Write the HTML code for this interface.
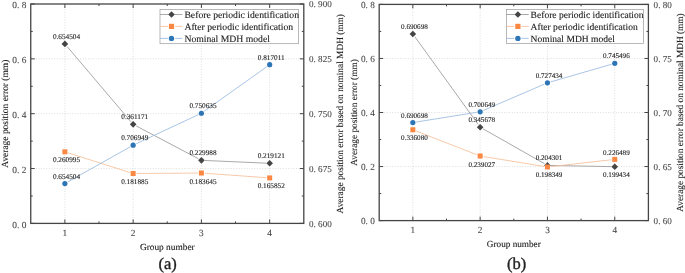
<!DOCTYPE html>
<html><head><meta charset="utf-8"><style>
html,body{margin:0;padding:0;background:#fff;width:685px;height:273px;overflow:hidden}
svg{display:block;will-change:transform;filter:blur(0.25px)}
text{font-family:"Liberation Serif", serif;fill:#222;stroke:#222;stroke-width:0.12;text-rendering:geometricPrecision}
.tl{fill:#484848;stroke:#484848;stroke-width:0.1}
.cap{stroke:#222;stroke-width:0.35}
.dl{stroke:#222;stroke-width:0.12}
</style></head><body>
<svg width="685" height="273" viewBox="0 0 685 273">
<line x1="64.881" y1="4" x2="64.881" y2="223.4" stroke="#c8c8c8" stroke-width="0.6" stroke-dasharray="1 1.6"/>
<line x1="133.144" y1="4" x2="133.144" y2="223.4" stroke="#c8c8c8" stroke-width="0.6" stroke-dasharray="1 1.6"/>
<line x1="201.406" y1="4" x2="201.406" y2="223.4" stroke="#c8c8c8" stroke-width="0.6" stroke-dasharray="1 1.6"/>
<line x1="269.669" y1="4" x2="269.669" y2="223.4" stroke="#c8c8c8" stroke-width="0.6" stroke-dasharray="1 1.6"/>
<line x1="30.75" y1="168.55" x2="303.8" y2="168.55" stroke="#c8c8c8" stroke-width="0.6" stroke-dasharray="1 1.6"/>
<line x1="30.75" y1="113.7" x2="303.8" y2="113.7" stroke="#c8c8c8" stroke-width="0.6" stroke-dasharray="1 1.6"/>
<line x1="30.75" y1="58.85" x2="303.8" y2="58.85" stroke="#c8c8c8" stroke-width="0.6" stroke-dasharray="1 1.6"/>
<path d="M64.881 223.4v-4M64.881 4v4M133.144 223.4v-4M133.144 4v4M201.406 223.4v-4M201.406 4v4M269.669 223.4v-4M269.669 4v4M99.013 223.4v-2M99.013 4v2M167.275 223.4v-2M167.275 4v2M235.538 223.4v-2M235.538 4v2M30.75 223.4h4M303.8 223.4h-4M30.75 168.55h4M303.8 168.55h-4M30.75 113.7h4M303.8 113.7h-4M30.75 58.85h4M303.8 58.85h-4M30.75 4h4M303.8 4h-4M30.75 195.975h2M303.8 195.975h-2M30.75 141.125h2M303.8 141.125h-2M30.75 86.275h2M303.8 86.275h-2M30.75 31.425h2M303.8 31.425h-2" stroke="#454545" stroke-width="1" fill="none"/>
<rect x="30.75" y="4" width="273.05" height="219.4" fill="none" stroke="#454545" stroke-width="1.3"/>
<text x="26.35" y="227.5" text-anchor="end" font-size="9.4" class="tl">0. 0</text>
<text x="26.35" y="172.65" text-anchor="end" font-size="9.4" class="tl">0. 2</text>
<text x="26.35" y="117.8" text-anchor="end" font-size="9.4" class="tl">0. 4</text>
<text x="26.35" y="62.95" text-anchor="end" font-size="9.4" class="tl">0. 6</text>
<text x="26.35" y="8.1" text-anchor="end" font-size="9.4" class="tl">0. 8</text>
<text x="309" y="226.6" font-size="9.1" class="tl">0. 600</text>
<text x="309" y="171.75" font-size="9.1" class="tl">0. 675</text>
<text x="309" y="116.9" font-size="9.1" class="tl">0. 750</text>
<text x="309" y="62.05" font-size="9.1" class="tl">0. 825</text>
<text x="309" y="7.2" font-size="9.1" class="tl">0. 900</text>
<text x="64.881" y="236.4" text-anchor="middle" font-size="9.4" class="tl">1</text>
<text x="133.144" y="236.4" text-anchor="middle" font-size="9.4" class="tl">2</text>
<text x="201.406" y="236.4" text-anchor="middle" font-size="9.4" class="tl">3</text>
<text x="269.669" y="236.4" text-anchor="middle" font-size="9.4" class="tl">4</text>
<path d="M67.081 46.495L130.944 121.756M136.152 125.934L198.398 158.741M204.803 160.474L266.272 163.158" fill="none" stroke="#9a9a9a" stroke-width="0.85"/>
<path d="M68.122 152.852L129.903 172.488M136.544 173.494L198.006 173.059M204.798 173.278L266.277 177.673" fill="none" stroke="#f6bf9a" stroke-width="0.85"/>
<path d="M67.845 181.874L130.18 146.85M136.223 143.743L198.327 114.677M204.177 111.265L266.898 66.663" fill="none" stroke="#98bbe0" stroke-width="0.85"/>
<path d="M64.881 40.602l3.3 3.3l-3.3 3.3l-3.3 -3.3z" fill="#454545"/>
<path d="M133.144 121.049l3.3 3.3l-3.3 3.3l-3.3 -3.3z" fill="#454545"/>
<path d="M201.406 157.026l3.3 3.3l-3.3 3.3l-3.3 -3.3z" fill="#454545"/>
<path d="M269.669 160.006l3.3 3.3l-3.3 3.3l-3.3 -3.3z" fill="#454545"/>
<rect x="62.381" y="149.322" width="5" height="5" fill="#fa8843"/>
<rect x="130.644" y="171.018" width="5" height="5" fill="#fa8843"/>
<rect x="198.906" y="170.535" width="5" height="5" fill="#fa8843"/>
<rect x="267.169" y="175.415" width="5" height="5" fill="#fa8843"/>
<circle cx="64.881" cy="183.539" r="2.6" fill="#2e75b6"/>
<circle cx="133.144" cy="145.185" r="2.6" fill="#2e75b6"/>
<circle cx="201.406" cy="113.236" r="2.6" fill="#2e75b6"/>
<circle cx="269.669" cy="64.693" r="2.6" fill="#2e75b6"/>
<text x="66.481" y="38.502" text-anchor="middle" font-size="7.25" class="dl">0.654504</text>
<text x="134.744" y="118.949" text-anchor="middle" font-size="7.25" class="dl">0.361171</text>
<text x="203.006" y="154.926" text-anchor="middle" font-size="7.25" class="dl">0.229988</text>
<text x="271.269" y="157.906" text-anchor="middle" font-size="7.25" class="dl">0.219121</text>
<text x="66.481" y="162.322" text-anchor="middle" font-size="7.25" class="dl">0.260995</text>
<text x="134.744" y="184.018" text-anchor="middle" font-size="7.25" class="dl">0.181885</text>
<text x="203.006" y="183.535" text-anchor="middle" font-size="7.25" class="dl">0.183645</text>
<text x="271.269" y="188.415" text-anchor="middle" font-size="7.25" class="dl">0.165852</text>
<text x="66.481" y="178.539" text-anchor="middle" font-size="7.25" class="dl">0.654504</text>
<text x="134.744" y="140.185" text-anchor="middle" font-size="7.25" class="dl">0.706949</text>
<text x="203.006" y="108.236" text-anchor="middle" font-size="7.25" class="dl">0.750635</text>
<text x="271.269" y="59.693" text-anchor="middle" font-size="7.25" class="dl">0.817011</text>
<rect x="160" y="9.4" width="138.5" height="34.3" fill="#fff" stroke="#9a9a9a" stroke-width="0.7"/>
<path d="M160 14.5H168.5M174.5 14.5H182.4" stroke="#9a9a9a" stroke-width="0.85"/>
<path d="M171.5 11.2l3.3 3.3l-3.3 3.3l-3.3 -3.3z" fill="#454545"/>
<text x="184.4" y="17.8" font-size="9.7">Before periodic identification</text>
<path d="M160 26.4H167.9M175.1 26.4H182.4" stroke="#f6bf9a" stroke-width="0.85"/>
<rect x="168.9" y="23.8" width="5.2" height="5.2" fill="#fa8843"/>
<text x="184.4" y="29.7" font-size="9.7">After periodic identification</text>
<path d="M160 38.4H167.9M175.1 38.4H182.4" stroke="#98bbe0" stroke-width="0.85"/>
<circle cx="171.5" cy="38.4" r="2.7" fill="#2e75b6"/>
<text x="184.4" y="41.7" font-size="9.7">Nominal MDH model</text>
<text x="167.275" y="250.4" text-anchor="middle" font-size="9.35">Group number</text>
<text x="167.6" y="268.8" text-anchor="middle" font-size="16.5" class="cap">(a)</text>
<text transform="translate(7.7 113.7) rotate(-90)" text-anchor="middle" font-size="9.45">Average position error (mm)</text>
<text transform="translate(342.8 113.7) rotate(-90)" text-anchor="middle" font-size="9.35">Average position error based on nominal MDH (mm)</text>
<line x1="412.85" y1="4.4" x2="412.85" y2="220.6" stroke="#c8c8c8" stroke-width="0.6" stroke-dasharray="1 1.6"/>
<line x1="480.15" y1="4.4" x2="480.15" y2="220.6" stroke="#c8c8c8" stroke-width="0.6" stroke-dasharray="1 1.6"/>
<line x1="547.45" y1="4.4" x2="547.45" y2="220.6" stroke="#c8c8c8" stroke-width="0.6" stroke-dasharray="1 1.6"/>
<line x1="614.75" y1="4.4" x2="614.75" y2="220.6" stroke="#c8c8c8" stroke-width="0.6" stroke-dasharray="1 1.6"/>
<line x1="379.2" y1="166.55" x2="648.4" y2="166.55" stroke="#c8c8c8" stroke-width="0.6" stroke-dasharray="1 1.6"/>
<line x1="379.2" y1="112.5" x2="648.4" y2="112.5" stroke="#c8c8c8" stroke-width="0.6" stroke-dasharray="1 1.6"/>
<line x1="379.2" y1="58.45" x2="648.4" y2="58.45" stroke="#c8c8c8" stroke-width="0.6" stroke-dasharray="1 1.6"/>
<path d="M412.85 220.6v-4M412.85 4.4v4M480.15 220.6v-4M480.15 4.4v4M547.45 220.6v-4M547.45 4.4v4M614.75 220.6v-4M614.75 4.4v4M446.5 220.6v-2M446.5 4.4v2M513.8 220.6v-2M513.8 4.4v2M581.1 220.6v-2M581.1 4.4v2M379.2 220.6h4M648.4 220.6h-4M379.2 166.55h4M648.4 166.55h-4M379.2 112.5h4M648.4 112.5h-4M379.2 58.45h4M648.4 58.45h-4M379.2 4.4h4M648.4 4.4h-4M379.2 193.575h2M648.4 193.575h-2M379.2 139.525h2M648.4 139.525h-2M379.2 85.475h2M648.4 85.475h-2M379.2 31.425h2M648.4 31.425h-2" stroke="#454545" stroke-width="1" fill="none"/>
<rect x="379.2" y="4.4" width="269.2" height="216.2" fill="none" stroke="#454545" stroke-width="1.3"/>
<text x="374.8" y="223.8" text-anchor="end" font-size="9.268" class="tl">0. 0</text>
<text x="374.8" y="169.75" text-anchor="end" font-size="9.268" class="tl">0. 2</text>
<text x="374.8" y="115.7" text-anchor="end" font-size="9.268" class="tl">0. 4</text>
<text x="374.8" y="61.65" text-anchor="end" font-size="9.268" class="tl">0. 6</text>
<text x="374.8" y="7.6" text-anchor="end" font-size="9.268" class="tl">0. 8</text>
<text x="653.6" y="224.1" font-size="9.1" class="tl">0. 60</text>
<text x="653.6" y="170.05" font-size="9.1" class="tl">0. 65</text>
<text x="653.6" y="116" font-size="9.1" class="tl">0. 70</text>
<text x="653.6" y="61.95" font-size="9.1" class="tl">0. 75</text>
<text x="653.6" y="7.9" font-size="9.1" class="tl">0. 80</text>
<text x="412.85" y="232.7" text-anchor="middle" font-size="9.268" class="tl">1</text>
<text x="480.15" y="232.7" text-anchor="middle" font-size="9.268" class="tl">2</text>
<text x="547.45" y="232.7" text-anchor="middle" font-size="9.268" class="tl">3</text>
<text x="614.75" y="232.7" text-anchor="middle" font-size="9.268" class="tl">4</text>
<path d="M414.84 36.696L478.16 124.424M483.107 128.859L544.493 163.709M550.849 165.454L611.351 166.637" fill="none" stroke="#9a9a9a" stroke-width="0.85"/>
<path d="M416.018 131.009L476.982 154.768M483.506 156.551L544.094 166.448M550.828 166.614L611.372 159.773" fill="none" stroke="#f6bf9a" stroke-width="0.85"/>
<path d="M416.207 122.019L476.793 112.335M483.273 110.455L544.327 84.188M550.715 81.897L611.485 64.266" fill="none" stroke="#98bbe0" stroke-width="0.85"/>
<path d="M412.85 30.639l3.3 3.3l-3.3 3.3l-3.3 -3.3z" fill="#454545"/>
<path d="M480.15 123.881l3.3 3.3l-3.3 3.3l-3.3 -3.3z" fill="#454545"/>
<path d="M547.45 162.088l3.3 3.3l-3.3 3.3l-3.3 -3.3z" fill="#454545"/>
<path d="M614.75 163.403l3.3 3.3l-3.3 3.3l-3.3 -3.3z" fill="#454545"/>
<rect x="410.35" y="127.274" width="5" height="5" fill="#fa8843"/>
<rect x="477.65" y="153.503" width="5" height="5" fill="#fa8843"/>
<rect x="544.95" y="164.496" width="5" height="5" fill="#fa8843"/>
<rect x="612.25" y="156.891" width="5" height="5" fill="#fa8843"/>
<circle cx="412.85" cy="122.555" r="2.6" fill="#2e75b6"/>
<circle cx="480.15" cy="111.798" r="2.6" fill="#2e75b6"/>
<circle cx="547.45" cy="82.844" r="2.6" fill="#2e75b6"/>
<circle cx="614.75" cy="63.319" r="2.6" fill="#2e75b6"/>
<text x="414.45" y="28.539" text-anchor="middle" font-size="7.149" class="dl">0.690698</text>
<text x="481.75" y="121.781" text-anchor="middle" font-size="7.149" class="dl">0.345678</text>
<text x="549.05" y="159.988" text-anchor="middle" font-size="7.149" class="dl">0.204301</text>
<text x="616.35" y="177.203" text-anchor="middle" font-size="7.149" class="dl">0.199434</text>
<text x="414.45" y="140.274" text-anchor="middle" font-size="7.149" class="dl">0.336080</text>
<text x="481.75" y="166.503" text-anchor="middle" font-size="7.149" class="dl">0.239027</text>
<text x="549.05" y="177.496" text-anchor="middle" font-size="7.149" class="dl">0.198349</text>
<text x="616.35" y="154.591" text-anchor="middle" font-size="7.149" class="dl">0.226489</text>
<text x="414.45" y="117.555" text-anchor="middle" font-size="7.149" class="dl">0.690698</text>
<text x="481.75" y="106.798" text-anchor="middle" font-size="7.149" class="dl">0.700649</text>
<text x="549.05" y="77.844" text-anchor="middle" font-size="7.149" class="dl">0.727434</text>
<text x="616.35" y="58.319" text-anchor="middle" font-size="7.149" class="dl">0.745496</text>
<rect x="506.4" y="9.4" width="137.2" height="34.1" fill="#fff" stroke="#9a9a9a" stroke-width="0.7"/>
<path d="M506.4 14.5H514.9M520.9 14.5H528.8" stroke="#9a9a9a" stroke-width="0.85"/>
<path d="M517.9 11.2l3.3 3.3l-3.3 3.3l-3.3 -3.3z" fill="#454545"/>
<text x="530.6" y="17.8" font-size="9.564">Before periodic identification</text>
<path d="M506.4 26.4H514.3M521.5 26.4H528.8" stroke="#f6bf9a" stroke-width="0.85"/>
<rect x="515.3" y="23.8" width="5.2" height="5.2" fill="#fa8843"/>
<text x="530.6" y="29.7" font-size="9.564">After periodic identification</text>
<path d="M506.4 38.4H514.3M521.5 38.4H528.8" stroke="#98bbe0" stroke-width="0.85"/>
<circle cx="517.9" cy="38.4" r="2.7" fill="#2e75b6"/>
<text x="530.6" y="41.7" font-size="9.564">Nominal MDH model</text>
<text x="513.8" y="247.2" text-anchor="middle" font-size="9.219">Group number</text>
<text x="516.7" y="268.8" text-anchor="middle" font-size="16.5" class="cap">(b)</text>
<text transform="translate(357.1 112.5) rotate(-90)" text-anchor="middle" font-size="9.318">Average position error (mm)</text>
<text transform="translate(682.6 112.5) rotate(-90)" text-anchor="middle" font-size="9.3">Average position error based on nominal MDH (mm)</text>
</svg>
</body></html>
